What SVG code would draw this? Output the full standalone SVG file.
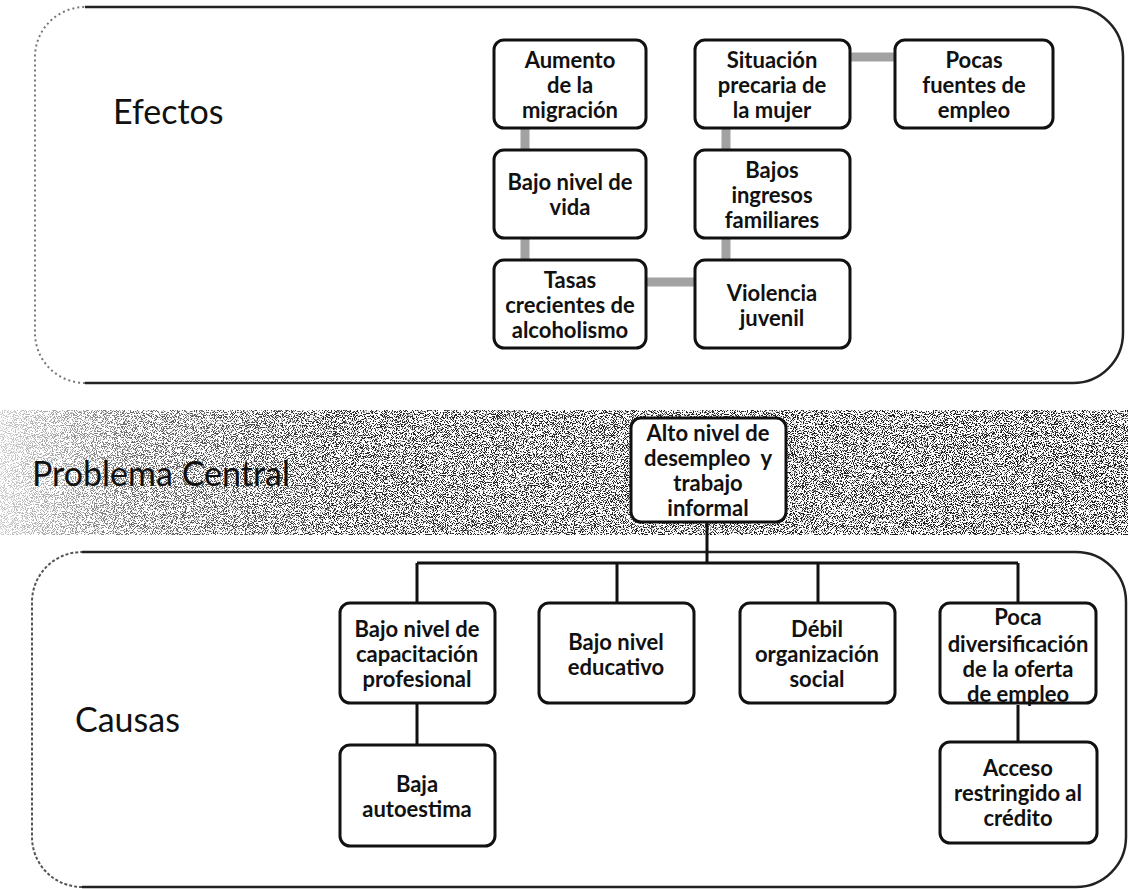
<svg xmlns="http://www.w3.org/2000/svg" width="1128" height="889" viewBox="0 0 1128 889">
<style>
.box{fill:#fff;stroke:#111;stroke-width:3}
.t{font-family:Lato,"Liberation Sans",sans-serif;font-size:22px;font-weight:bold;fill:#111;text-anchor:middle;dominant-baseline:central}
.big{font-family:Lato,"Liberation Sans",sans-serif;font-size:34px;fill:#111;dominant-baseline:central}
.eff{stroke:#a2a2a2;stroke-width:9;fill:none}
.cau{stroke:#111;stroke-width:3;fill:none}
</style>
<defs>
<linearGradient id="band" x1="0" y1="0" x2="1" y2="0">
<stop offset="0" stop-color="#000" stop-opacity="0.2"/>
<stop offset="0.12" stop-color="#000" stop-opacity="0.6"/>
<stop offset="0.3" stop-color="#000" stop-opacity="0.85"/>
<stop offset="1" stop-color="#000" stop-opacity="0.9"/>
</linearGradient>
<filter id="stip" x="0" y="0" width="100%" height="100%" color-interpolation-filters="sRGB">
<feTurbulence type="fractalNoise" baseFrequency="1.1" numOctaves="1" seed="7" result="n"/>
<feColorMatrix in="n" type="matrix" values="0 0 0 0 0  0 0 0 0 0  0 0 0 0 0  -14 0 0 0 7.0" result="dots"/>
<feComposite in="dots" in2="SourceGraphic" operator="in"/>
</filter>
</defs>
<rect width="1128" height="889" fill="#fff"/>
<g id="panel-efectos">
<path d="M85,7 H1073 A50,50 0 0 1 1123,57 V333 A50,50 0 0 1 1073,383 H85" fill="none" stroke="#222" stroke-width="2.5"/>
<path d="M85,383 A50,50 0 0 1 35,333 V57 A50,50 0 0 1 85,7" fill="none" stroke="#777" stroke-width="2" stroke-dasharray="2 3"/>
<text class="big" x="113" y="110">Efectos</text>
</g>
<g id="band-problema">
<rect x="0" y="410" width="1128" height="125" fill="url(#band)" filter="url(#stip)"/>
<text class="big" x="32" y="472" font-size="30">Problema Central</text>
</g>
<g id="panel-causas">
<path d="M82,552 H1076 A50,50 0 0 1 1126,602 V837 A50,50 0 0 1 1076,887 H82" fill="none" stroke="#222" stroke-width="2.5"/>
<path d="M82,887 A50,50 0 0 1 32,837 V602 A50,50 0 0 1 82,552" fill="none" stroke="#555" stroke-width="2" stroke-dasharray="3 2"/>
<text class="big" x="75" y="718">Causas</text>
</g>
<g id="connectors">
<path class="eff" d="M525,128 V150 M525,238 V260 M726,128 V150 M726,238 V262 M647,282 H695 M850,57 H895"/>
<path class="cau" d="M707,522 V563 M417,563 H1018 M417,563 V603 M617,563 V603 M818,563 V603 M1018,563 V603 M417,703 V745 M1018,705 V742"/>
</g>
<g id="n-aumento"><rect class="box" x="494" y="40" width="152" height="88" rx="10"/><text class="t" x="570" y="59">Aumento</text><text class="t" x="570" y="84">de la</text><text class="t" x="570" y="109">migración</text></g>
<g id="n-situacion"><rect class="box" x="695" y="40" width="155" height="88" rx="10"/><text class="t" x="772" y="59">Situación</text><text class="t" x="772" y="84">precaria de</text><text class="t" x="772" y="109">la mujer</text></g>
<g id="n-pocas"><rect class="box" x="895" y="40" width="158" height="88" rx="10"/><text class="t" x="974" y="59">Pocas</text><text class="t" x="974" y="84">fuentes de</text><text class="t" x="974" y="109">empleo</text></g>
<g id="n-bajovida"><rect class="box" x="494" y="150" width="152" height="88" rx="10"/><text class="t" x="570" y="181">Bajo nivel de</text><text class="t" x="570" y="206">vida</text></g>
<g id="n-bajosingresos"><rect class="box" x="695" y="150" width="155" height="88" rx="10"/><text class="t" x="772" y="169">Bajos</text><text class="t" x="772" y="194">ingresos</text><text class="t" x="772" y="219">familiares</text></g>
<g id="n-tasas"><rect class="box" x="494" y="260" width="152" height="88" rx="10"/><text class="t" x="570" y="279">Tasas</text><text class="t" x="570" y="304">crecientes de</text><text class="t" x="570" y="329">alcoholismo</text></g>
<g id="n-violencia"><rect class="box" x="695" y="260" width="155" height="88" rx="10"/><text class="t" x="772" y="292">Violencia</text><text class="t" x="772" y="317">juvenil</text></g>
<g id="n-central"><rect class="box" x="631" y="418" width="155" height="104" rx="10"/><text class="t" x="708" y="432">Alto nivel de</text><text class="t" x="708" y="457">desempleo&#160; y</text><text class="t" x="708" y="482">trabajo</text><text class="t" x="708" y="507">informal</text></g>
<g id="n-capacitacion"><rect class="box" x="340" y="603" width="155" height="100" rx="10"/><text class="t" x="417" y="628">Bajo nivel de</text><text class="t" x="417" y="653">capacitación</text><text class="t" x="417" y="678">profesional</text></g>
<g id="n-educativo"><rect class="box" x="539" y="603" width="155" height="100" rx="10"/><text class="t" x="616" y="641">Bajo nivel</text><text class="t" x="616" y="666">educativo</text></g>
<g id="n-debil"><rect class="box" x="740" y="603" width="155" height="100" rx="10"/><text class="t" x="817" y="628">Débil</text><text class="t" x="817" y="653">organización</text><text class="t" x="817" y="678">social</text></g>
<g id="n-poca"><rect class="box" x="940" y="603" width="156" height="100" rx="10"/><text class="t" x="1018" y="616">Poca</text><text class="t" x="1018" y="643">diversificación</text><text class="t" x="1018" y="668">de la oferta</text><text class="t" x="1018" y="693">de empleo</text></g>
<g id="n-autoestima"><rect class="box" x="340" y="745" width="155" height="101" rx="10"/><text class="t" x="417" y="783">Baja</text><text class="t" x="417" y="808">autoestima</text></g>
<g id="n-acceso"><rect class="box" x="940" y="742" width="157" height="101" rx="10"/><text class="t" x="1018" y="767">Acceso</text><text class="t" x="1018" y="792">restringido al</text><text class="t" x="1018" y="817">crédito</text></g>
</svg>
